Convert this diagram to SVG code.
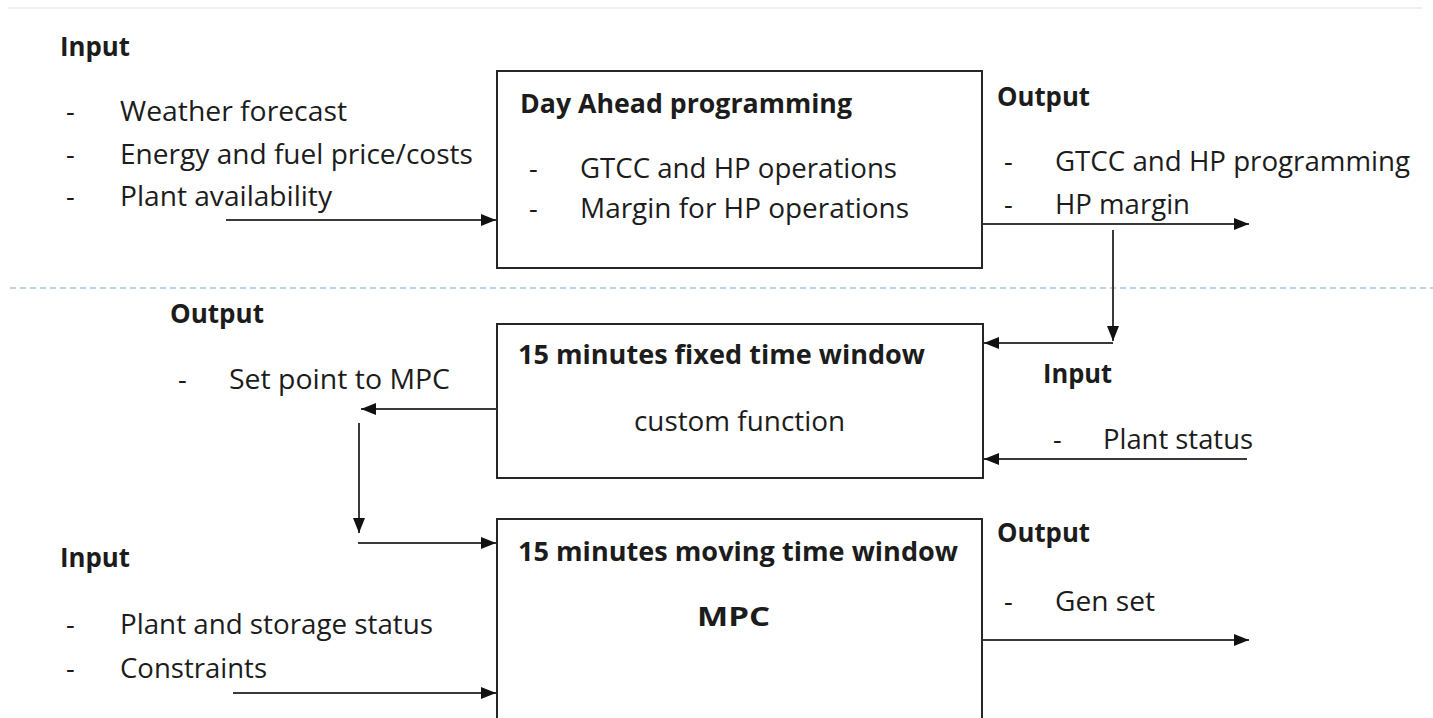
<svg xmlns="http://www.w3.org/2000/svg" width="1433" height="718" viewBox="0 0 1433 718">
  <style>
    text { font-family: "Open Sans", "Liberation Sans", sans-serif; font-size: 27px; fill: #1c1c1c; }
    .b { font-weight: bold; }
    .box { fill: #ffffff; stroke: #262626; stroke-width: 2; }
    .wire { fill: none; stroke: #3a3a3a; stroke-width: 2; }
  </style>
  <defs>
    <marker id="arr" viewBox="0 0 15 12" refX="15" refY="6" markerWidth="15" markerHeight="12" orient="auto" markerUnits="userSpaceOnUse">
      <path d="M0,0 L15,6 L0,12 z" fill="#111"/>
    </marker>
  </defs>

  <rect width="1433" height="718" fill="#ffffff"/>
  <!-- faint top rule and dashed separator -->
  <line x1="8" y1="8" x2="1422" y2="8" stroke="#efefef" stroke-width="2"/>
  <line x1="10" y1="288" x2="1433" y2="288" stroke="#a9c6e2" stroke-width="1.5" stroke-dasharray="6,4"/>

  <!-- stage 1 -->
  <g id="day-ahead">
    <rect class="box" x="497" y="71" width="485" height="197"/>
    <text class="b" x="520" y="113" textLength="332" lengthAdjust="spacingAndGlyphs">Day Ahead programming</text>
    <text x="529" y="178">-</text>
    <text x="580" y="178" textLength="317" lengthAdjust="spacingAndGlyphs">GTCC and HP operations</text>
    <text x="529" y="218">-</text>
    <text x="580" y="218" textLength="329" lengthAdjust="spacingAndGlyphs">Margin for HP operations</text>
  </g>
  <g id="day-ahead-input">
    <text class="b" x="60" y="56" textLength="70" lengthAdjust="spacingAndGlyphs">Input</text>
    <text x="66" y="121">-</text><text x="120" y="121" textLength="227" lengthAdjust="spacingAndGlyphs">Weather forecast</text>
    <text x="66" y="164">-</text><text x="120" y="164" textLength="353" lengthAdjust="spacingAndGlyphs">Energy and fuel price/costs</text>
    <text x="66" y="206">-</text><text x="120" y="206" textLength="212" lengthAdjust="spacingAndGlyphs">Plant availability</text>
  </g>
  <g id="day-ahead-output">
    <text class="b" x="997" y="106" textLength="93" lengthAdjust="spacingAndGlyphs">Output</text>
    <text x="1004" y="171">-</text><text x="1055" y="171" textLength="355" lengthAdjust="spacingAndGlyphs">GTCC and HP programming</text>
    <text x="1004" y="214">-</text><text x="1055" y="214" textLength="135" lengthAdjust="spacingAndGlyphs">HP margin</text>
  </g>

  <!-- stage 2 -->
  <g id="fixed-window">
    <rect class="box" x="497" y="324" width="486" height="154"/>
    <text class="b" x="518" y="364" textLength="407" lengthAdjust="spacingAndGlyphs">15 minutes fixed time window</text>
    <text x="634" y="431" textLength="211" lengthAdjust="spacingAndGlyphs">custom function</text>
  </g>
  <g id="fixed-window-output">
    <text class="b" x="170" y="323" textLength="94" lengthAdjust="spacingAndGlyphs">Output</text>
    <text x="178" y="389">-</text><text x="229" y="389" textLength="221" lengthAdjust="spacingAndGlyphs">Set point to MPC</text>
  </g>
  <g id="fixed-window-input">
    <text class="b" x="1043" y="383" textLength="69" lengthAdjust="spacingAndGlyphs">Input</text>
    <text x="1053" y="449">-</text><text x="1103" y="449" textLength="150" lengthAdjust="spacingAndGlyphs">Plant status</text>
  </g>

  <!-- stage 3 -->
  <g id="moving-window">
    <rect class="box" x="497" y="519" width="485" height="210"/>
    <text class="b" x="518" y="561" textLength="440" lengthAdjust="spacingAndGlyphs">15 minutes moving time window</text>
    <text class="b" x="697" y="626" textLength="73" lengthAdjust="spacingAndGlyphs">MPC</text>
  </g>
  <g id="moving-window-input">
    <text class="b" x="60" y="567" textLength="70" lengthAdjust="spacingAndGlyphs">Input</text>
    <text x="66" y="634">-</text><text x="120" y="634" textLength="313" lengthAdjust="spacingAndGlyphs">Plant and storage status</text>
    <text x="66" y="678">-</text><text x="120" y="678" textLength="147" lengthAdjust="spacingAndGlyphs">Constraints</text>
  </g>
  <g id="moving-window-output">
    <text class="b" x="997" y="542" textLength="93" lengthAdjust="spacingAndGlyphs">Output</text>
    <text x="1004" y="611">-</text><text x="1055" y="611" textLength="100" lengthAdjust="spacingAndGlyphs">Gen set</text>
  </g>

  <g id="connectors">
    <line class="wire" x1="226" y1="220" x2="496" y2="220" marker-end="url(#arr)"/>
    <line class="wire" x1="983" y1="224" x2="1249" y2="224" marker-end="url(#arr)"/>
    <line class="wire" x1="1113" y1="230" x2="1113" y2="341" marker-end="url(#arr)"/>
    <line class="wire" x1="1113" y1="343" x2="984" y2="343" marker-end="url(#arr)"/>
    <line class="wire" x1="1247" y1="459" x2="984" y2="459" marker-end="url(#arr)"/>
    <line class="wire" x1="497" y1="409" x2="361" y2="409" marker-end="url(#arr)"/>
    <line class="wire" x1="359" y1="423" x2="359" y2="533" marker-end="url(#arr)"/>
    <line class="wire" x1="358" y1="543" x2="496" y2="543" marker-end="url(#arr)"/>
    <line class="wire" x1="233" y1="693" x2="496" y2="693" marker-end="url(#arr)"/>
    <line class="wire" x1="983" y1="640" x2="1249" y2="640" marker-end="url(#arr)"/>
  </g>
</svg>
